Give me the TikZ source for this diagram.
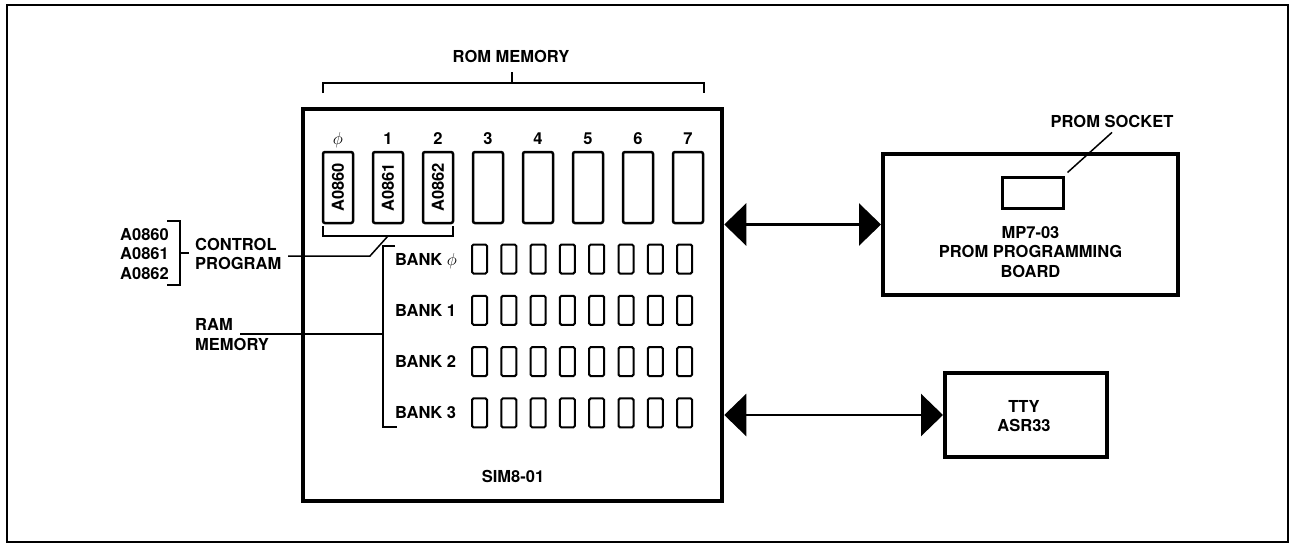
\documentclass[tikz,border=0pt]{standalone}
\usepackage{fontspec}
\setmainfont{TeX Gyre Heros}
\usetikzlibrary{arrows.meta}

\begin{document}
\begin{tikzpicture}[x=1pt, y=-1pt,
    lbl/.style={font=\bfseries\fontsize{16.5}{19.5}\selectfont, inner sep=0pt},
    romchip/.style={draw, line width=2.5pt, rounded corners=2pt, minimum width=30pt, minimum height=71pt, inner sep=0pt},
    ramchip/.style={draw, line width=2pt, rounded corners=1.5pt, minimum width=15pt, minimum height=29pt, inner sep=0pt},
    biarrow/.style={line width=2.5pt, {Triangle[length=22pt,width=42pt]}-{Triangle[length=22pt,width=42pt]}}]
    \useasboundingbox (0,0) rectangle (1291,544);
    % Frame
    \draw[line width=1.2pt] (7,5) rectangle (1288,542);

    % SIM8-01 board
    \node[draw, line width=4.5pt, minimum width=419pt, minimum height=392pt] (sim) at (512.5,305) {};
    \node[lbl] (simname) at (513,476) {SIM8-01};

    % ROM sockets
    \foreach \i/\num/\part in {0/$\phi$/A0860, 1/1/A0861, 2/2/A0862, 3/3/, 4/4/, 5/5/, 6/6/, 7/7/} {
        \node[romchip] (rom\i) at (338+50*\i,187.5) {};
        \node[lbl, anchor=base] (romnum\i) at (338+50*\i,144) {\num};
        \node[lbl, rotate=90] (rompart\i) at (rom\i) {\part};
    }

    % ROM memory bracket
    \node[lbl] (romlbl) at (511,56) {ROM MEMORY};
    \draw[line width=1.5pt] (323,93) -- (323,83) -- (704,83) -- (704,93);
    \draw[line width=1.5pt] (512,83) -- (512,72);

    % RAM banks
    \foreach \r/\lab in {0/$\phi$, 1/1, 2/2, 3/3} {
        \node[lbl, anchor=base west] (bank\r) at (395,265+51.3*\r) {BANK \lab};
        \foreach \c in {0,...,7}
            \node[ramchip] (ram\r\c) at (479.5+29.3*\c,259+51.3*\r) {};
    }

    % Control program bracket
    \draw[line width=1.5pt] (323,226) -- (323,236) -- (453,236) -- (453,226);
    \coordinate (cbr) at (388,236);
    \node[lbl, align=left, anchor=north west] (parts) at (120,228) {A0860\\A0861\\A0862};
    \draw[line width=1.5pt] (167,221) -- (180,221) -- (180,285) -- (167,285);
    \draw[line width=1.5pt] (180,253) -- (189,253);
    \node[lbl, align=left, anchor=north west] (ctrl) at (195,238) {CONTROL\\PROGRAM};
    \coordinate (ctrlend) at (288,256);
    \draw[line width=1.5pt] (ctrlend) -- (370,256) -- (cbr);

    % RAM memory bracket
    \draw[line width=1.5pt] (395,246) -- (383,246) -- (383,427) -- (397,427);
    \coordinate (rambr) at (383,334);
    \node[lbl, align=left, anchor=north west, font=\bfseries\fontsize{16.5}{20.5}\selectfont] (ram) at (195,318) {RAM\\MEMORY};
    \coordinate (ramend) at (240,334);
    \draw[line width=1.5pt] (ramend) -- (rambr);

    % PROM programming board
    \node[draw, line width=4pt, minimum width=295pt, minimum height=141pt] (prom) at (1030.5,224.5) {};
    \node[draw, line width=3pt, minimum width=61pt, minimum height=31pt] (socket) at (1032.5,192.5) {};
    \node[lbl, align=center] (promtxt) at (1030.5,252) {MP7-03\\PROM PROGRAMMING\\BOARD};
    \node[lbl] (socktxt) at (1112,121) {PROM SOCKET};
    \draw[line width=1.5pt] ([shift={(3pt,3pt)}]socket.north east) -- ([yshift=-5pt]socktxt.south);

    % TTY
    \node[draw, line width=4pt, minimum width=162pt, minimum height=84pt] (tty) at (1026,415) {};
    \node[lbl, align=center] (ttytxt) at (1024,416) {TTY\\ASR33};

    % Arrows
    \draw[biarrow] (prom.west -| sim.east) -- (prom.west);
    \draw[biarrow] (tty.west -| sim.east) -- (tty.west);
\end{tikzpicture}
\end{document}
